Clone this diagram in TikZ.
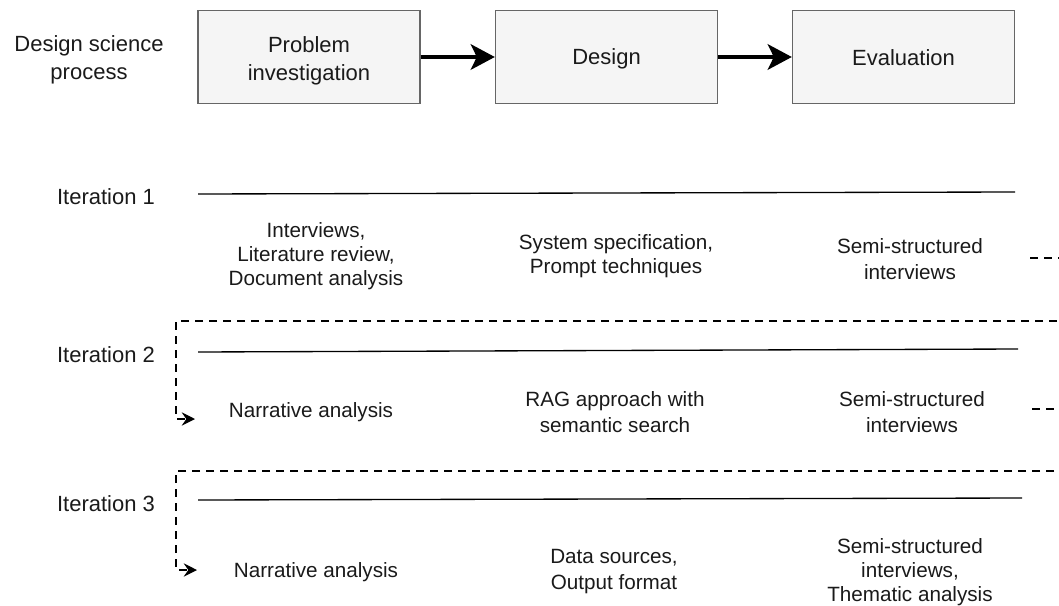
\documentclass[tikz,border=0pt]{standalone}
\usepackage{fontspec}
\setmainfont{Liberation Sans}
\usetikzlibrary{arrows.meta}
\definecolor{boxfill}{HTML}{F5F5F5}
\definecolor{boxdraw}{HTML}{666666}
\definecolor{txt}{HTML}{1A1A1A}
\tikzset{
  lbl/.style={align=center, text=txt, inner sep=0pt, font=\fontsize{15.5pt}{19.5pt}\selectfont},
  lbltight/.style={lbl, font=\fontsize{15.5pt}{18pt}\selectfont},
  hdr/.style={align=center, text=txt, inner sep=0pt, font=\fontsize{16.5pt}{21pt}\selectfont},
  procbox/.style={draw=boxdraw, fill=boxfill, line width=1pt, minimum width=166.5pt, minimum height=69.75pt, inner sep=0pt},
  bigarrow/.style={line width=3.2pt, -{Triangle[length=18pt,width=19pt,inset=4.5pt]}},
  iterline/.style={line width=1pt},
  dashconn/.style={dashed, dash pattern=on 6pt off 4.5pt, line width=0.9pt},
  dasharrow/.style={dashconn, -{Stealth[length=10pt,width=10pt,inset=3.5pt]}},
}
\begin{document}
\begin{tikzpicture}[x=0.75pt,y=-0.75pt]
\useasboundingbox (0,0) rectangle (1059,606);
\clip (0,0) rectangle (1059,606);
% header
\node[hdr] (dsp) at (89,60) {Design science\\process};
\node[procbox] (pi) at (309,57) {};
\node[procbox] (de) at (606.5,57) {};
\node[procbox] (ev) at (903.5,57) {};
\node[hdr] (pit) at (309,60.5) {Problem\\investigation};
\node[hdr] (det) at (606.5,59) {Design};
\node[hdr] (evt) at (903.5,57.5) {Evaluation};
\draw[bigarrow] (pi.east) -- (de.west);
\draw[bigarrow] (de.east) -- (ev.west);
% iteration 1
\node[hdr] (it1) at (106,197) {Iteration 1};
\coordinate (l1a) at (198,194);
\coordinate (l1b) at (1015,192);
\draw[iterline] (l1a) -- (l1b);
\node[lbltight] (i1p) at (316,256) {Interviews,\\Literature review,\\Document analysis};
\node[lbltight] (i1d) at (616,256.5) {System specification,\\Prompt techniques};
\node[lbl] (i1e) at (910,259) {Semi-structured\\interviews};
% iteration 2
\node[hdr] (it2) at (106,355) {Iteration 2};
\coordinate (l2a) at (198,352);
\coordinate (l2b) at (1018,349);
\draw[iterline] (l2a) -- (l2b);
\node[lbl] (i2p) at (311,412) {Narrative analysis};
\node[lbl] (i2d) at (615,412) {RAG approach with\\semantic search};
\node[lbl] (i2e) at (912,412) {Semi-structured\\interviews};
% iteration 3
\node[hdr] (it3) at (106,504) {Iteration 3};
\coordinate (l3a) at (198,500);
\coordinate (l3b) at (1022,498);
\draw[iterline] (l3a) -- (l3b);
\node[lbl] (i3p) at (316,572) {Narrative analysis};
\node[lbl] (i3d) at (614,572) {Data sources,\\Output format};
\node[lbltight] (i3e) at (910,572) {Semi-structured\\interviews,\\Thematic analysis};
% dashed feedback connectors
\coordinate (f1s) at (1030,258);
\coordinate (f1r) at (1075,258);
\coordinate (f1t) at (176,321);
\coordinate (f1e) at (195,419);
\draw[dasharrow] (f1s) -- (f1r) |- (f1t) |- (f1e);
\coordinate (f2s) at (1032,409);
\coordinate (f2r) at (1075,409);
\coordinate (f2t) at (176,471);
\coordinate (f2e) at (197,570);
\draw[dasharrow] (f2s) -- (f2r) |- (f2t) |- (f2e);
\end{tikzpicture}
\end{document}
